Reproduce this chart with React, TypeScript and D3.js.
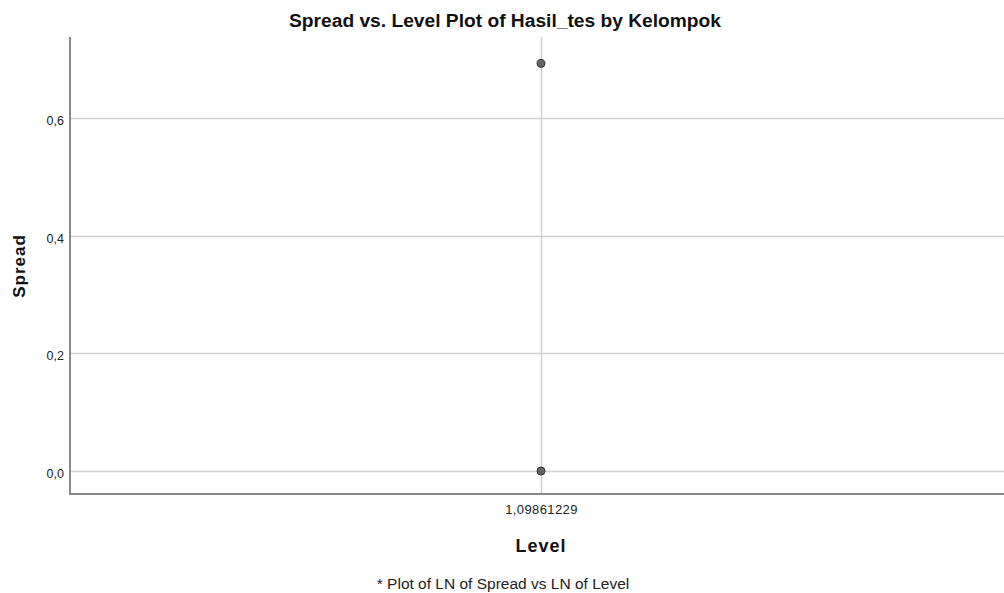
import React, { useRef, useEffect } from "react"
import * as d3 from "d3"

// data
const levels = ["1,09861229", "1,09861229"]
const spreads = [0.6931, 0.0]
const yTicks = [0, 0.2, 0.4, 0.6]

export default function App() {
    const svgRef = useRef<SVGSVGElement>(null)

    useEffect(() => {
        const width = 1004
        const height = 593
        const left = 70
        const top = 37
        const bottom = 494
        const font = "'Liberation Sans', Arial, sans-serif"

        const svg = d3.select(svgRef.current)
        svg.selectAll("*").remove()
        svg.attr("width", width).attr("height", height)
            .style("font-family", font)

        const xScale = d3.scalePoint<string>()
            .domain(Array.from(new Set(levels)))
            .range([left, 1012])
            .padding(0.5)

        const yScale = d3.scaleLinear()
            .domain([-0.039, 0.738])
            .range([bottom, top])

        // gridlines
        svg.append("g").selectAll("line")
            .data(yTicks)
            .join("line")
            .attr("x1", left)
            .attr("x2", width)
            .attr("y1", d => Math.round(yScale(d)) + 0.5)
            .attr("y2", d => Math.round(yScale(d)) + 0.5)
            .attr("stroke", "#cfcfcf")
            .attr("stroke-width", 1.5)

        svg.append("g").selectAll("line")
            .data(xScale.domain())
            .join("line")
            .attr("x1", d => Math.round(xScale(d)!) + 0.5)
            .attr("x2", d => Math.round(xScale(d)!) + 0.5)
            .attr("y1", top)
            .attr("y2", bottom)
            .attr("stroke", "#cfcfcf")
            .attr("stroke-width", 1.5)

        // axes
        const yAxis = d3.axisLeft(yScale)
            .tickValues(yTicks)
            .tickSize(0)
            .tickPadding(6)
            .tickFormat(d => d3.format(".1f")(d as number).replace(".", ","))
        const gy = svg.append("g")
            .attr("transform", `translate(${left},0)`)
            .call(yAxis)
        gy.select(".domain").remove()
        gy.selectAll("text").attr("font-size", 12.5).attr("fill", "#222")
            .attr("dy", "0.5em")
            .style("font-family", font)

        const xAxis = d3.axisBottom(xScale).tickSize(0).tickPadding(11)
        const gx = svg.append("g")
            .attr("transform", `translate(0,${bottom})`)
            .call(xAxis)
        gx.select(".domain").remove()
        gx.selectAll("text").attr("font-size", 13).attr("fill", "#222")
            .attr("letter-spacing", 0.4)
            .style("font-family", font)

        svg.append("line")
            .attr("x1", left).attr("x2", left)
            .attr("y1", top).attr("y2", bottom + 1)
            .attr("stroke", "#888").attr("stroke-width", 2)
        svg.append("line")
            .attr("x1", left - 1).attr("x2", width)
            .attr("y1", bottom).attr("y2", bottom)
            .attr("stroke", "#888").attr("stroke-width", 2)

        // points
        svg.append("g").selectAll("circle")
            .data(spreads)
            .join("circle")
            .attr("cx", (d, i) => xScale(levels[i])!)
            .attr("cy", d => yScale(d))
            .attr("r", 4)
            .attr("fill", "#666")
            .attr("stroke", "#333")
            .attr("stroke-width", 1)

        // titles
        svg.append("text")
            .attr("x", 505).attr("y", 27)
            .attr("text-anchor", "middle")
            .attr("font-size", 19.2).attr("font-weight", "bold")
            .attr("fill", "#111")
            .text("Spread vs. Level Plot of Hasil_tes by Kelompok")

        svg.append("text")
            .attr("transform", `translate(25,266) rotate(-90)`)
            .attr("text-anchor", "middle")
            .attr("font-size", 17).attr("font-weight", "bold")
            .attr("letter-spacing", 1)
            .attr("fill", "#111")
            .text("Spread")

        svg.append("text")
            .attr("x", 541).attr("y", 552)
            .attr("text-anchor", "middle")
            .attr("font-size", 18).attr("font-weight", "bold")
            .attr("letter-spacing", 1)
            .attr("fill", "#111")
            .text("Level")

        svg.append("text")
            .attr("x", 503).attr("y", 589)
            .attr("text-anchor", "middle")
            .attr("font-size", 15.5)
            .attr("fill", "#222")
            .text("* Plot of LN of Spread vs LN of Level")
    }, [])

    return (
        <svg ref={svgRef} style={{ position: "absolute", left: 0, top: 0 }}></svg>
    )
}
